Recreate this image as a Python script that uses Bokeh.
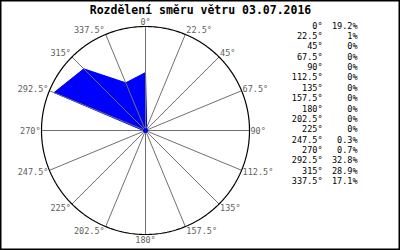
import numpy as np
from bokeh.plotting import figure
from bokeh.models import Range1d
from bokeh.core.properties import value
from bokeh.embed import file_html
from bokeh.resources import INLINE

title = "Rozdělení směru větru 03.07.2016"
directions = [0, 22.5, 45, 67.5, 90, 112.5, 135, 157.5, 180, 202.5, 225, 247.5, 270, 292.5, 315, 337.5]
percent = [19.2, 1, 0, 0, 0, 0, 0, 0, 0, 0, 0, 0.3, 0.7, 32.8, 28.9, 17.1]
dir_labels = ["0°", "22.5°", "45°", "67.5°", "90°", "112.5°", "135°", "157.5°", "180°",
              "202.5°", "225°", "247.5°", "270°", "292.5°", "315°", "337.5°"]

CX, CY, R = 145, 130, 104
SCALE = 99 / 32.8  # px per percent
MONO = value("DejaVu Sans Mono")

p = figure(width=400, height=250, output_backend="svg", toolbar_location=None,
           x_range=Range1d(0, 400), y_range=Range1d(250, 0), min_border=0)
p.axis.visible = False
p.grid.visible = False
p.background_fill_color = "white"
p.border_fill_color = "white"
p.outline_line_color = "black"
p.outline_line_width = 2

th = np.radians(directions)
sx, sy = np.sin(th), np.cos(th)

# polygon
r = np.array(percent) * SCALE
px = CX + r * sx
py = CY - r * sy
p.patch(list(px), list(py), fill_color="#0000ff", line_color="#0000ff", line_width=1)

# spokes
ex = CX + R * sx
ey = CY - R * sy
p.segment(x0=[CX] * 16, y0=[CY] * 16, x1=list(ex), y1=list(ey), line_color="#707070", line_width=1)

# circle
a = np.linspace(0, 2 * np.pi, 361)
p.line(list(CX + R * np.cos(a)), list(CY + R * np.sin(a)), line_color="black", line_width=1.2)

# center dot
p.scatter([CX], [CY], size=4, color="#0000ff")

# spoke labels
for lab, s, c, x, y in zip(dir_labels, sx, sy, ex, ey):
    if abs(s) < 1e-6:
        align, lx = "center", x
    elif s > 0:
        align, lx = "left", x + 1
    else:
        align, lx = "right", x - 1
    ly = y - 5 * c
    p.text([lx], [ly], text=[lab], text_font=MONO, text_font_size="8.5px",
           text_color="#606060", text_align=align, text_baseline="middle")

# legend
ys = [25 + i * 10.38 for i in range(16)]
p.text([322] * 16, ys, text=dir_labels, text_font=MONO, text_font_size="8.5px",
       text_color="black", text_align="right", text_baseline="middle")
p.text([357] * 16, ys, text=[f"{v:g}%" for v in percent], text_font=MONO, text_font_size="8.5px",
       text_color="black", text_align="right", text_baseline="middle")

# title
p.text([200], [9], text=[title], text_font=MONO, text_font_size="11.5px", text_font_style="bold",
       text_color="black", text_align="center", text_baseline="middle")

open("out.html", "w").write(file_html(p, INLINE))
